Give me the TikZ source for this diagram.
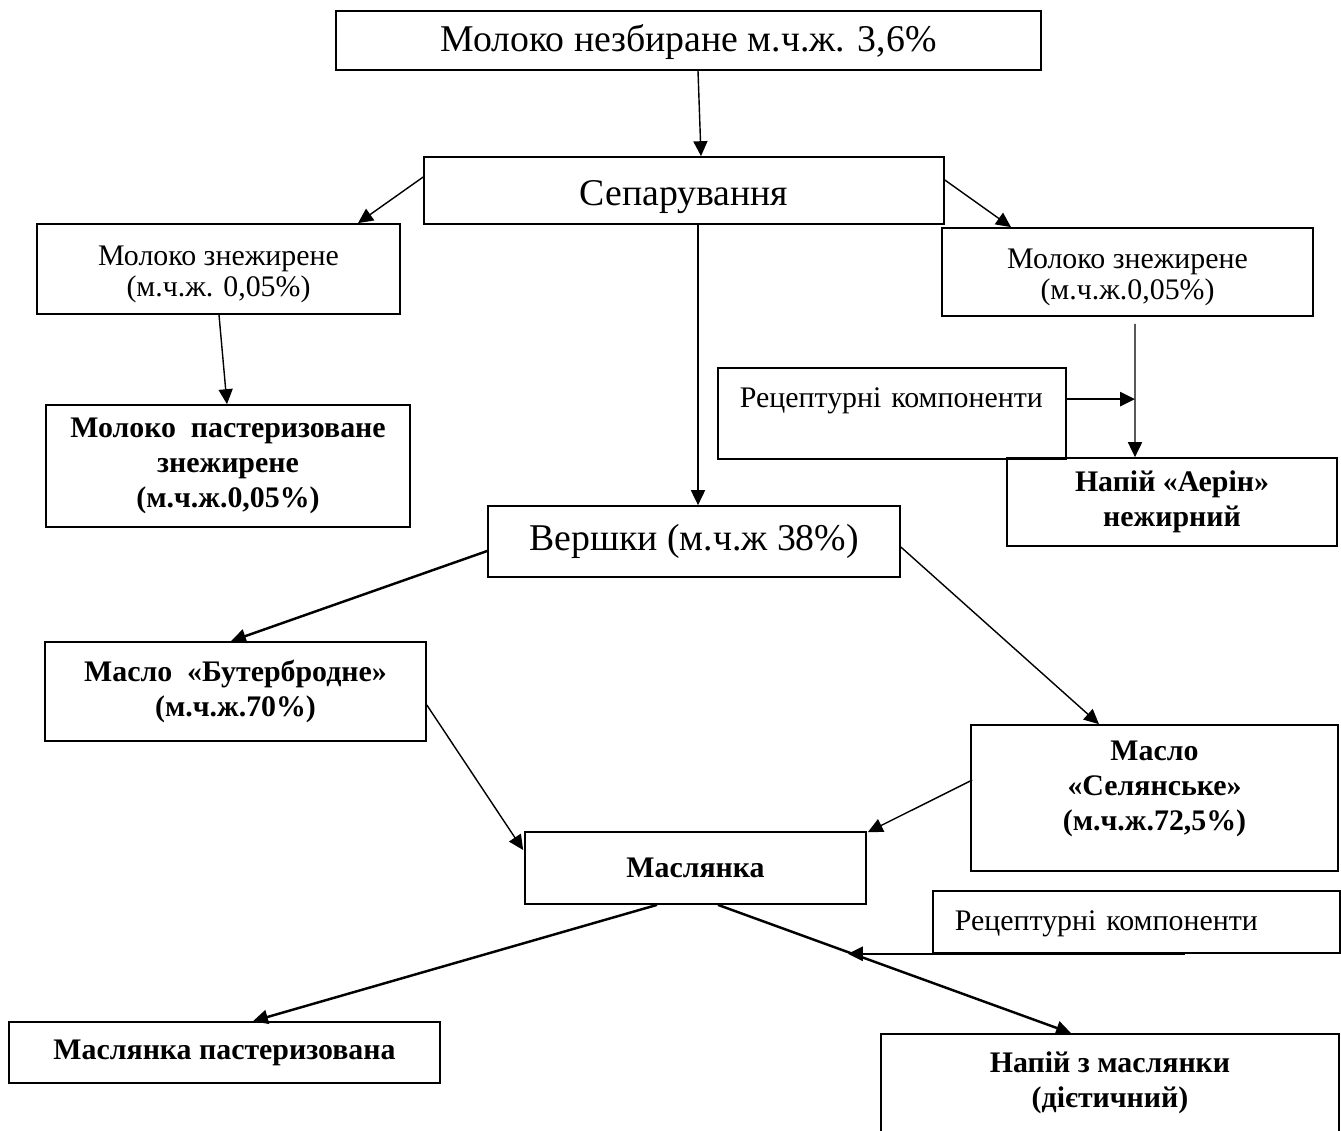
\documentclass[tikz,border=0pt]{standalone}
\usepackage{fontspec}
\setmainfont{Liberation Serif}
\usepackage{tikz}
\usetikzlibrary{arrows.meta,calc}

\tikzset{
  box/.style={draw, rectangle, line width=1pt, align=center, inner sep=0pt},
  bigtext/.style={font=\fontsize{21.5}{26}\selectfont},
  smalltext/.style={font=\fontsize{17}{17.6}\selectfont},
  boldtext/.style={font=\fontsize{17}{19.8}\selectfont\bfseries},
  flow/.style={->, line width=0.8pt},
  flowthick/.style={->, line width=1.4pt},
}

\begin{document}
\begin{tikzpicture}[x=0.02cm, y=-0.02cm, >={Triangle[length=8.5pt,width=8pt]}]
        \clip (0,0) rectangle (1341,1130);
        % Сировина
        \node[box, bigtext, minimum width=14.1cm, minimum height=1.18cm, text height=16.9pt] (milk) at (688.5,40.5) {Молоко незбиране м.ч.ж. 3,6\%};
        % Сепарування
        \node[box, bigtext, minimum width=10.4cm, minimum height=1.34cm, text height=21.4pt] (sep) at (684,190.5) {Сепарування};
        % Знежирене молоко (ліворуч і праворуч)
        \node[box, smalltext, minimum width=7.26cm, minimum height=1.8cm, text height=34.5pt] (skimL) at (218.5,269) {Молоко знежирене\\(м.ч.ж. 0,05\%)};
        \node[box, smalltext, minimum width=7.42cm, minimum height=1.76cm, text height=34.5pt] (skimR) at (1127.5,272) {Молоко знежирене\\(м.ч.ж.0,05\%)};
        % Пастеризоване знежирене молоко
        \node[box, boldtext, minimum width=7.28cm, minimum height=2.44cm] (pastL) at (228,466) {Молоко \ пастеризоване\\знежирене\\(м.ч.ж.0,05\%)};
        % Рецептурні компоненти для напою
        \node[box, smalltext, anchor=north west, align=left, inner xsep=0.44cm, text width=6.08cm, text height=22.8pt, text depth=29pt] (rec1) at (717,367) {Рецептурні компоненти};
        % Напій «Аерін»
        \node[box, boldtext, minimum width=6.6cm, minimum height=1.76cm] (aerin) at (1172,502) {Напій «Аерін»\\нежирний};
        % Вершки
        \node[box, bigtext, minimum width=8.24cm, minimum height=1.42cm] (cream) at (694,541.5) {Вершки (м.ч.ж 38\%)};
        % Масло
        \node[box, boldtext, minimum width=7.62cm, minimum height=1.98cm] (butter1) at (235.5,691.5) {Масло \ «Бутербродне»\\(м.ч.ж.70\%)};
        \node[box, boldtext, minimum width=7.34cm, minimum height=2.92cm, text depth=14pt] (butter2) at (1154.5,798) {Масло\\«Селянське»\\(м.ч.ж.72,5\%)};
        % Маслянка
        \node[box, boldtext, minimum width=6.82cm, minimum height=1.44cm] (butmilk) at (695.5,868) {Маслянка};
        % Рецептурні компоненти для напою з маслянки
        \node[box, smalltext, anchor=north west, align=left, inner xsep=0.44cm, text width=7.26cm, text height=22.8pt, text depth=12.5pt] (rec2) at (932,890) {Рецептурні компоненти};
        % Продукти з маслянки
        \node[box, boldtext, minimum width=8.62cm, minimum height=1.22cm] (pastB) at (224.5,1052.5) {Маслянка пастеризована};
        \node[box, boldtext, minimum width=9.16cm, minimum height=2.32cm, text depth=14pt] (drink) at (1110,1092) {Напій з маслянки\\(дієтичний)};

        % Точки приєднання
        \coordinate (join1) at ($(aerin.north)+(-37,-58)$);
        \coordinate (bmout) at ($(butmilk.south)+(22.5,0)$);
        \coordinate (drin) at ($(drink.north)+(-39,0)$);
        \coordinate (join2) at ($(bmout)!0.368!(drin)$);

        % Стрілки
        \draw[flow] ($(milk.south)+(9.5,0)$) -- ($(sep.north)+(17,0)$);
        \draw[flow] ($(sep.west)+(0,-13.5)$) -- ($(skimL.north)+(139.5,0)$);
        \draw[flow] ($(sep.east)+(0,-10.5)$) -- ($(skimR.north)+(-116.5,0)$);
        \draw[flow] ($(skimL.south)+(0.5,0)$) -- ($(pastL.north)+(-1,0)$);
        \draw[flow] ($(sep.south)+(14,0)$) -- ($(cream.north)+(4,0)$);
        \draw[flow] ($(skimR.south)+(7.5,7)$) -- ($(aerin.north)+(-37,0)$);
        \draw[flowthick] (rec1.east |- join1) -- (join1);
        \draw[flowthick] ($(cream.west)+(0,9.5)$) -- ($(butter1.north)+(-4.5,0)$);
        \draw[flow] ($(cream.east)+(0,5.5)$) -- ($(butter2.north)+(-55.5,0)$);
        \draw[flow] ($(butter1.east)+(0,13.5)$) -- ($(butmilk.west)+(-1,-18)$);
        \draw[flow] ($(butter2.west)+(2,-18)$) -- ($(butmilk.north east)+(1,1)$);
        \draw[flowthick] ($(butmilk.south)+(-38.5,0)$) -- ($(pastB.north)+(28.5,0)$);
        \draw[flowthick] (bmout) -- (drin);
        \draw[flowthick] ($(rec2.south east)+(-156,0)$) -- (join2 |- rec2.south);
    \end{tikzpicture}
\end{document}
